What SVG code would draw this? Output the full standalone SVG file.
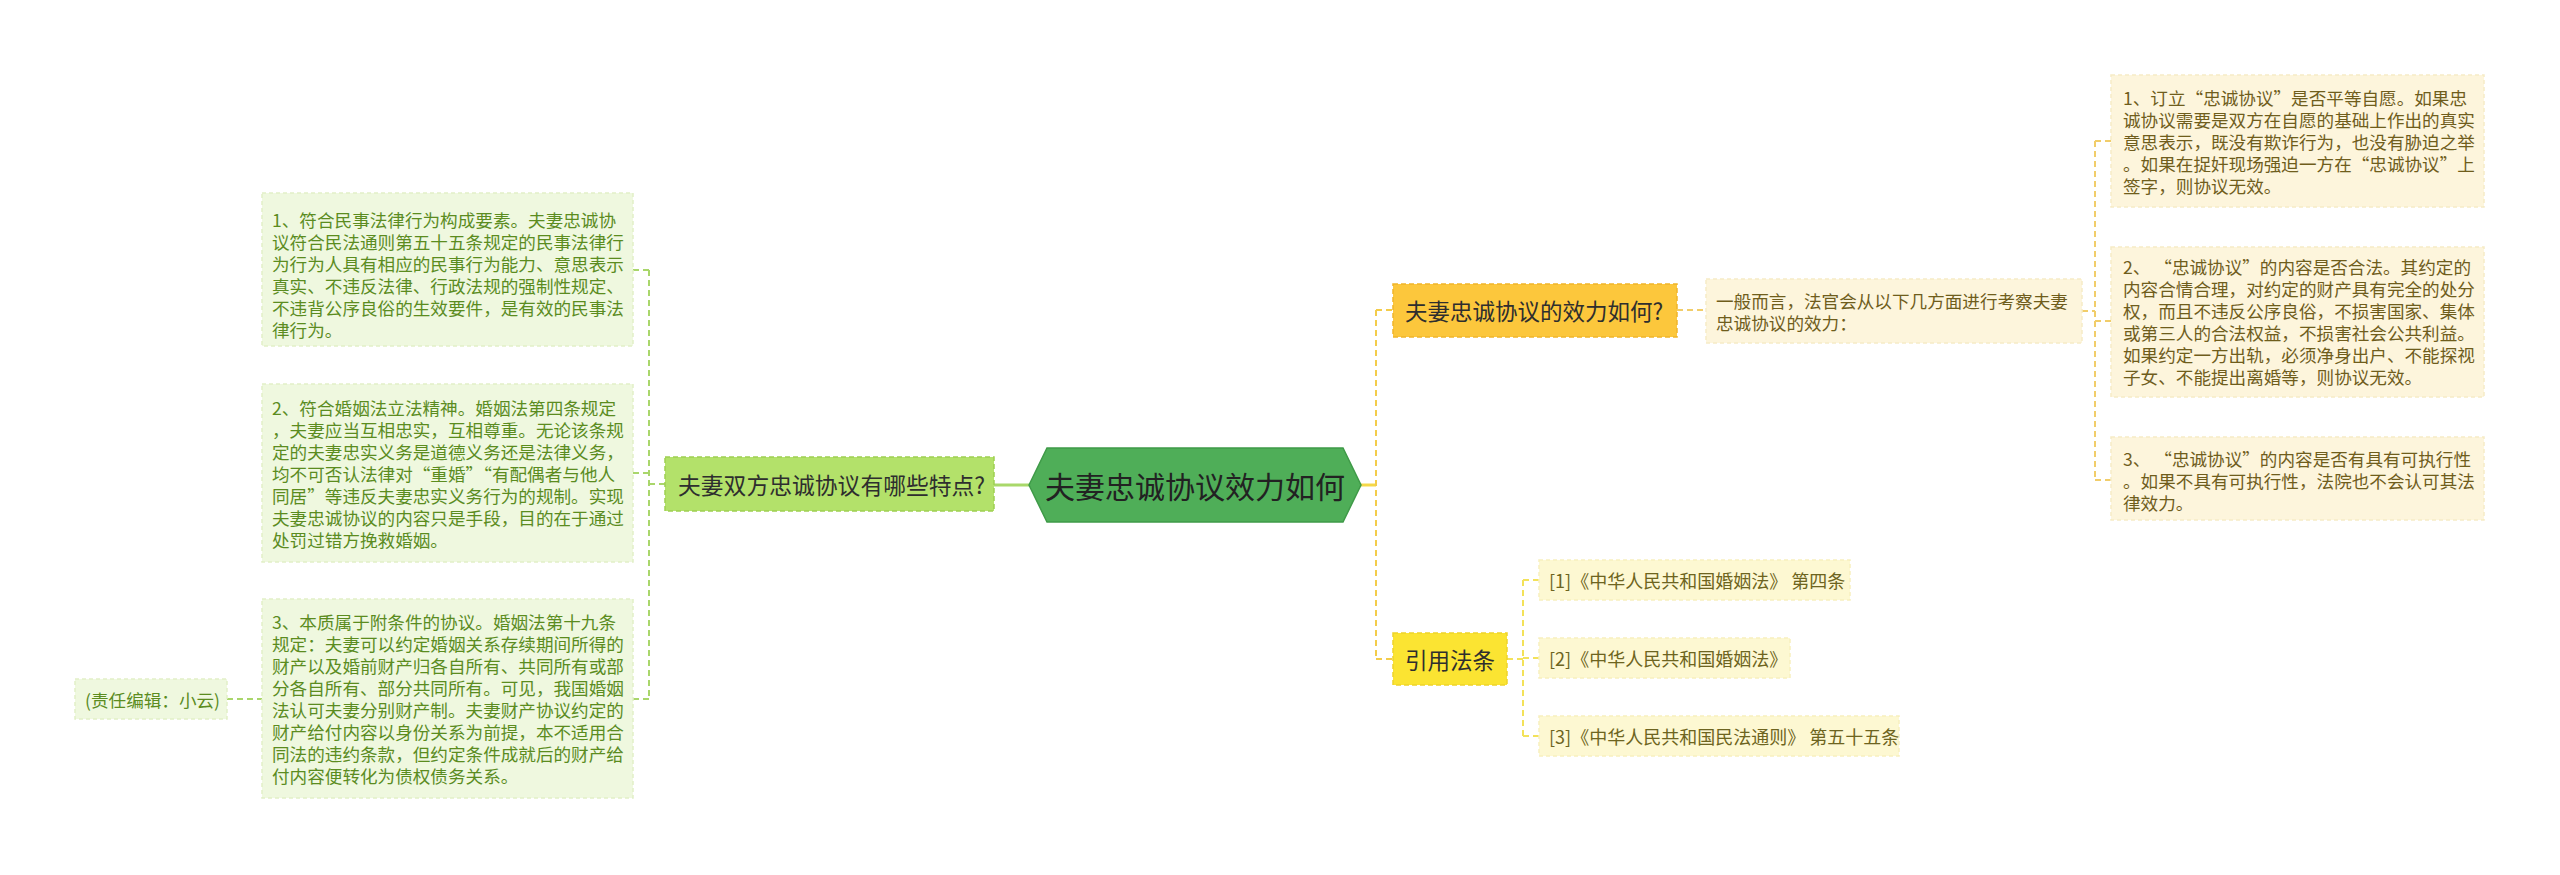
<svg xmlns="http://www.w3.org/2000/svg" width="2560" height="875" viewBox="0 0 2560 875">
<style>
text{font-family:"Noto Sans CJK SC","Noto Sans",sans-serif;dominant-baseline:central}
.leafL rect{fill:#eff8df;stroke:#e2f0c8;stroke-width:1.5;stroke-dasharray:4 3}
.leafL text{fill:#5b8c1f;font-size:17.6px}
.leafR rect{fill:#fdf5dc;stroke:#f6ebc6;stroke-width:1.5;stroke-dasharray:4 3}
.leafR text{fill:#6f5d1c;font-size:17.6px}
.ref rect{fill:#fdf8d2;stroke:#f7efbe;stroke-width:1.5;stroke-dasharray:4 3}
.ref text{fill:#6d6420;font-size:18px}
.dl{fill:none;stroke-width:2;stroke-dasharray:6 4}
</style>
<rect width="2560" height="875" fill="#ffffff"/>
<g id="connectors">
  <path d="M1029,485 H994" stroke="#a9d86a" stroke-width="3" fill="none"/>
  <path class="dl" stroke="#a9d66b" d="M665,484 H649 M649,270 V699 M649,270 H633 M649,473 H633 M649,699 H633 M227,699 H262"/>
  <path d="M1361,485 H1376" stroke="#f5d848" stroke-width="3" fill="none"/>
  <path class="dl" stroke="#f3cc4a" d="M1376,310 V659 M1376,310 H1393 M1376,659 H1393"/>
  <path class="dl" stroke="#f1cd6a" d="M1677,310 H1706 M2082,311 H2095 M2095,141 V480 M2095,141 H2111 M2095,321 H2111 M2095,480 H2111"/>
  <path class="dl" stroke="#f3e25a" d="M1507,659 H1523 M1523,580 V736 M1523,580 H1539 M1523,658 H1539 M1523,736 H1539"/>
</g>
<g id="root">
  <polygon points="1029,485 1047,448 1343,448 1361,485 1343,522 1047,522" fill="#4fae58" stroke="#3f9a48" stroke-width="1.5"/>
  <text x="1195" y="485" font-size="30" fill="#222222" text-anchor="middle">夫妻忠诚协议效力如何</text>
</g>
<g id="left-branch">
  <rect x="665" y="457" width="329" height="54" fill="#b3e16a" stroke="#9fd052" stroke-width="1.5" stroke-dasharray="5 3"/>
  <text x="678" y="484" font-size="22.8" fill="#2e2e2e">夫妻双方忠诚协议有哪些特点?</text>
</g>
<g id="left-leaf-1" class="leafL">
  <rect x="262" y="193" width="371" height="153"/>
  <text x="272" y="219">1、符合民事法律行为构成要素。夫妻忠诚协</text>
  <text x="272" y="241">议符合民法通则第五十五条规定的民事法律行</text>
  <text x="272" y="263">为行为人具有相应的民事行为能力、意思表示</text>
  <text x="272" y="285">真实、不违反法律、行政法规的强制性规定、</text>
  <text x="272" y="307">不违背公序良俗的生效要件，是有效的民事法</text>
  <text x="272" y="329">律行为。</text>
</g>
<g id="left-leaf-2" class="leafL">
  <rect x="262" y="384" width="371" height="178"/>
  <text x="272" y="407">2、符合婚姻法立法精神。婚姻法第四条规定</text>
  <text x="272" y="429">，夫妻应当互相忠实，互相尊重。无论该条规</text>
  <text x="272" y="451">定的夫妻忠实义务是道德义务还是法律义务，</text>
  <text x="272" y="473">均不可否认法律对“重婚”“有配偶者与他人</text>
  <text x="272" y="495">同居”等违反夫妻忠实义务行为的规制。实现</text>
  <text x="272" y="517">夫妻忠诚协议的内容只是手段，目的在于通过</text>
  <text x="272" y="539">处罚过错方挽救婚姻。</text>
</g>
<g id="left-leaf-3" class="leafL">
  <rect x="262" y="599" width="371" height="199"/>
  <text x="272" y="621">3、本质属于附条件的协议。婚姻法第十九条</text>
  <text x="272" y="643">规定：夫妻可以约定婚姻关系存续期间所得的</text>
  <text x="272" y="665">财产以及婚前财产归各自所有、共同所有或部</text>
  <text x="272" y="687">分各自所有、部分共同所有。可见，我国婚姻</text>
  <text x="272" y="709">法认可夫妻分别财产制。夫妻财产协议约定的</text>
  <text x="272" y="731">财产给付内容以身份关系为前提，本不适用合</text>
  <text x="272" y="753">同法的违约条款，但约定条件成就后的财产给</text>
  <text x="272" y="775">付内容便转化为债权债务关系。</text>
</g>
<g id="editor" class="leafL">
  <rect x="75" y="679" width="152" height="40"/>
  <text x="85" y="699">(责任编辑：小云)</text>
</g>
<g id="right-branch-1">
  <rect x="1393" y="284" width="284" height="53" fill="#fcc73c" stroke="#f0b52a" stroke-width="1.5" stroke-dasharray="5 3"/>
  <text x="1405" y="310" font-size="22.5" fill="#2e2e2e">夫妻忠诚协议的效力如何?</text>
</g>
<g id="right-branch-2">
  <rect x="1393" y="633" width="114" height="52" fill="#fbe432" stroke="#eed42a" stroke-width="1.5" stroke-dasharray="5 3"/>
  <text x="1405" y="659" font-size="22.5" fill="#2e2e2e">引用法条</text>
</g>
<g id="general" class="leafR">
  <rect x="1706" y="279" width="376" height="64"/>
  <text x="1716" y="300">一般而言，法官会从以下几方面进行考察夫妻</text>
  <text x="1716" y="322">忠诚协议的效力：</text>
</g>
<g id="right-leaf-1" class="leafR">
  <rect x="2111" y="75" width="373" height="132"/>
  <text x="2123" y="97">1、订立“忠诚协议”是否平等自愿。如果忠</text>
  <text x="2123" y="119">诚协议需要是双方在自愿的基础上作出的真实</text>
  <text x="2123" y="141">意思表示，既没有欺诈行为，也没有胁迫之举</text>
  <text x="2123" y="163">。如果在捉奸现场强迫一方在“忠诚协议”上</text>
  <text x="2123" y="185">签字，则协议无效。</text>
</g>
<g id="right-leaf-2" class="leafR">
  <rect x="2111" y="247" width="373" height="150"/>
  <text x="2123" y="266">2、 “忠诚协议”的内容是否合法。其约定的</text>
  <text x="2123" y="288">内容合情合理，对约定的财产具有完全的处分</text>
  <text x="2123" y="310">权，而且不违反公序良俗，不损害国家、集体</text>
  <text x="2123" y="332">或第三人的合法权益，不损害社会公共利益。</text>
  <text x="2123" y="354">如果约定一方出轨，必须净身出户、不能探视</text>
  <text x="2123" y="376">子女、不能提出离婚等，则协议无效。</text>
</g>
<g id="right-leaf-3" class="leafR">
  <rect x="2111" y="437" width="373" height="83"/>
  <text x="2123" y="458">3、 “忠诚协议”的内容是否有具有可执行性</text>
  <text x="2123" y="480">。如果不具有可执行性，法院也不会认可其法</text>
  <text x="2123" y="502">律效力。</text>
</g>
<g id="ref-1" class="ref">
  <rect x="1539" y="560" width="311" height="40"/>
  <text x="1549" y="580">[1]《中华人民共和国婚姻法》 第四条</text>
</g>
<g id="ref-2" class="ref">
  <rect x="1539" y="638" width="251" height="40"/>
  <text x="1549" y="658">[2]《中华人民共和国婚姻法》</text>
</g>
<g id="ref-3" class="ref">
  <rect x="1539" y="716" width="360" height="40"/>
  <text x="1549" y="736">[3]《中华人民共和国民法通则》 第五十五条</text>
</g>
</svg>
